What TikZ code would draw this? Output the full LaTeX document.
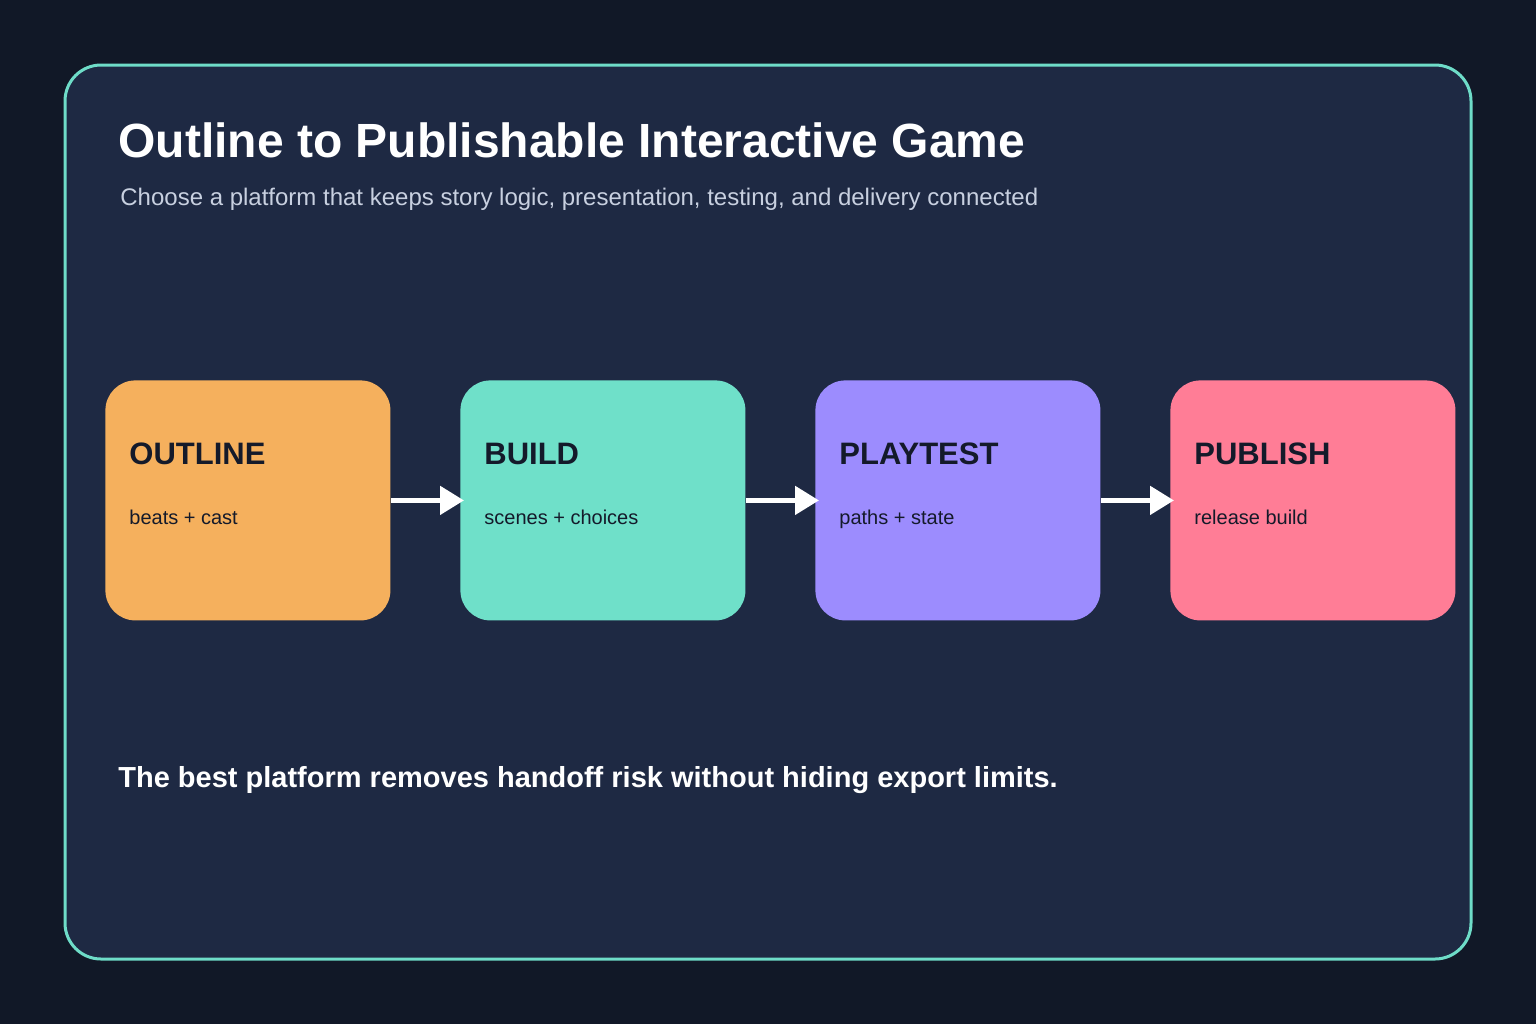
\documentclass[tikz,border=0pt]{standalone}
\usepackage{fontspec}
\setmainfont{Liberation Sans}
\usetikzlibrary{calc,positioning,arrows.meta}
\definecolor{bgdark}{HTML}{111827}
\definecolor{panel}{HTML}{1E2943}
\definecolor{rim}{HTML}{6EDCC8}
\definecolor{subgray}{HTML}{C8D0E0}
\definecolor{inkdark}{HTML}{141A2A}
\definecolor{cOutline}{HTML}{F5B05D}
\definecolor{cBuild}{HTML}{6FE0C9}
\definecolor{cPlay}{HTML}{9C8CFE}
\definecolor{cPub}{HTML}{FF7D96}
\tikzset{
  stage/.style={rectangle, rounded corners=15pt, minimum width=142.5pt, minimum height=120pt, inner sep=0pt, anchor=north west, draw=none},
  stagehead/.style={anchor=base west, inner sep=0pt, text=inkdark, font=\fontsize{15.5pt}{18pt}\selectfont\bfseries},
  stagetext/.style={anchor=base west, inner sep=0pt, text=inkdark, font=\fontsize{10pt}{12pt}\selectfont},
  flow/.style={white, line width=2.5pt, -{Triangle[length=12pt,width=14pt]}, shorten >=-2pt}
}
\begin{document}
\begin{tikzpicture}[x=0.5pt,y=-0.5pt]
  \fill[bgdark] (0,0) rectangle (1536,1024);
  \useasboundingbox (0,0) rectangle (1536,1024);
  \draw[rim, fill=panel, line width=1.5pt, rounded corners=18pt] (65,65) rectangle (1471,959);
  \node[anchor=base west, inner sep=0pt, text=white, font=\fontsize{24pt}{28pt}\selectfont\bfseries] (title) at (118,157) {Outline to Publishable Interactive Game};
  \node[anchor=base west, inner sep=0pt, text=subgray, font=\fontsize{12pt}{14pt}\selectfont] (subtitle) at (120,205) {Choose a platform that keeps story logic, presentation, testing, and delivery connected};
  % stages
  \foreach \n/\x/\c/\h/\t in {A/105/cOutline/OUTLINE/beats + cast, B/460/cBuild/BUILD/scenes + choices, C/815/cPlay/PLAYTEST/paths + state, D/1170/cPub/PUBLISH/release build}{
    \node[stage, fill=\c] (\n) at (\x,380) {};
    \node[stagehead] (\n h) at ($(\n.north west)+(24,84)$) {\h};
    \node[stagetext] (\n t) at ($(\n.north west)+(24,144)$) {\t};
  }
  \draw[flow] (A.east) -- (B.west);
  \draw[flow] (B.east) -- (C.west);
  \draw[flow] (C.east) -- (D.west);
  \node[anchor=base west, inner sep=0pt, text=white, font=\fontsize{14.5pt}{17pt}\selectfont\bfseries] (note) at (118,787) {The best platform removes handoff risk without hiding export limits.};
\end{tikzpicture}
\end{document}
